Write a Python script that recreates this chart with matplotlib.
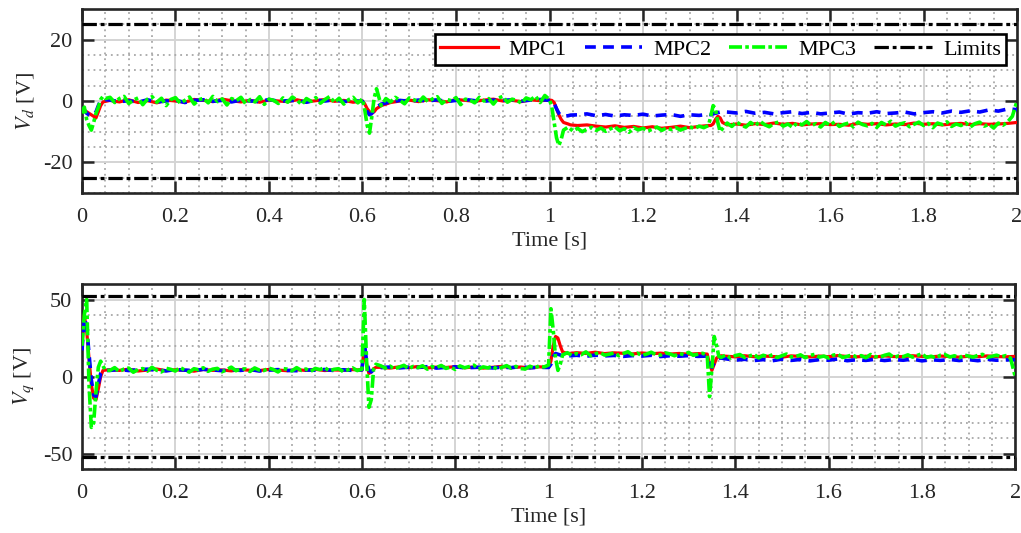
import numpy as np
import matplotlib
matplotlib.use("Agg")
import matplotlib.pyplot as plt
from matplotlib.ticker import MultipleLocator
from matplotlib.lines import Line2D

plt.rcParams['font.family'] = ['Liberation Serif', 'DejaVu Serif']
plt.rcParams['mathtext.fontset'] = 'stix'
plt.rcParams['axes.unicode_minus'] = False

# ---------------- time bases ----------------
t_rb = np.concatenate([
    [0, 0.005, 0.01, 0.015, 0.02, 0.025, 0.03, 0.035, 0.04, 0.045],
    np.arange(0.06, 0.601, 0.02),
    [0.605, 0.61, 0.615, 0.62, 0.625, 0.63],
    np.arange(0.64, 1.001, 0.02),
    [1.005, 1.01, 1.015, 1.02, 1.025, 1.03, 1.04, 1.045],
    np.arange(1.06, 1.341, 0.02),
    [1.345, 1.35, 1.355, 1.36, 1.365, 1.37],
    np.arange(1.38, 2.001, 0.02),
])
t_g = np.concatenate([
    [0, 0.005, 0.01, 0.015, 0.02, 0.025, 0.03, 0.035, 0.04, 0.045, 0.05],
    np.arange(0.06, 0.6001, 0.01),
    [0.605, 0.61, 0.615, 0.62, 0.625, 0.63],
    np.arange(0.64, 1.0001, 0.01),
    [1.005, 1.01, 1.015, 1.02, 1.025, 1.03],
    np.arange(1.04, 1.3401, 0.01),
    [1.345, 1.35, 1.355, 1.36, 1.365],
    np.arange(1.37, 2.0001, 0.01),
])

# ---------------- Vd ----------------
vd_mpc1 = [
    -2.5, -3, -3.5, -4, -4.5, -5, -5.5, -3.5, -1.5, -0.3,
    0.2, -0.3, 0.4, -0.5, 0.1, -0.6, 0.3, 0.0, -0.4, 0.5, 0.2, -0.2, 0.6, 0.1, -0.3,
    0.2, -0.4, 0.3, 0.0, -0.2, 0.4, -0.3, 0.1, 0.5, -0.1, 0.2, -0.4, 0.0,
    -1, -2.5, -3.5, -4, -3.5, -2.5,
    -1.5, -0.5, 0.0, 0.3, -0.2, 0.4, 0.1, -0.3, 0.5, 0.2, -0.1, 0.3, 0.6, 0.0, 0.2,
    -0.2, 0.4, 0.1, 0.3,
    0.2, -0.5, -2.5, -4.5, -6, -7, -7.5, -7.8,
    -8.0, -7.8, -8.2, -8.5, -8.1, -8.6, -8.3, -8.8, -8.4, -8.9, -8.6, -8.2, -8.7, -8.3, -8.0,
    -8, -7.5, -6, -5, -5.5, -7,
    -7.8, -7.5, -7.9, -7.4, -7.7, -7.2, -7.6, -7.3, -7.8, -7.5,
    -7.4, -7.7, -7.6, -7.9, -7.3, -7.6, -7.4, -7.8, -7.5, -7.7,
    -7.2, -7.6, -7.4, -7.8, -7.5, -7.3, -7.7, -7.4, -7.6, -7.5,
    -7.3, -7.0,
]
vd_mpc2 = [
    -2, -3, -4, -4.5, -4.8, -4.5, -3.5, -1.5, 0.2, 0.5,
    0.3, -0.2, 0.1, -0.4, 0.4, -0.3, 0.0, 0.3, -0.5, 0.2, 0.4, -0.1, 0.2, -0.3, 0.3,
    0.0, -0.2, 0.5, -0.1, 0.1, 0.2, -0.4, 0.3, 0.0, 0.4, -0.2, 0.1, -0.1,
    -1.5, -3.5, -4.5, -4, -3, -2,
    -1.0, -0.3, 0.2, -0.1, 0.3, 0.0, 0.4, -0.2, 0.2, 0.5, 0.1, -0.1, 0.3, 0.2, 0.4,
    0.0, 0.3, 0.5, 0.2,
    0.2, -0.8, -2.5, -4, -4.8, -5, -4.8, -4.6,
    -4.5, -4.2, -4.8, -4.4, -4.9, -4.5, -4.7, -4.3, -4.9, -4.6, -4.4, -5.0, -4.5, -4.7, -4.3,
    -4.5, -4.2, -4.0, -3.8, -3.6, -3.5,
    -3.6, -3.9, -3.4, -4.0, -3.7, -4.2, -3.8, -3.5, -4.1, -3.7,
    -4.2, -3.9, -3.6, -4.3, -3.8, -4.0, -3.5, -4.1, -3.9, -3.6,
    -4.2, -3.8, -3.5, -3.9, -3.3, -3.7, -3.2, -3.6, -2.9, -3.3,
    -2.6, -2.8,
]
vd_mpc3 = [
    -4, -2, -6, -8, -9.5, -7, -4, -2, 0.5, 1.5, 0.8,
    1.2, -0.5, 0.8, 1.5, -0.8, 0.3, 1.0, -1.2, 0.6, 1.4,
    -0.4, 0.9, -1.5, 0.5, 1.1, -0.7, 0.2, 1.3, -1.0, 0.4,
    0.9, -0.6, 1.5, -0.2, 0.7, -1.3, 0.8, 0.1, 1.2, -0.9,
    0.5, -0.3, 1.4, -1.1, 0.6, 0.2, -0.8, 1.0, -0.4, 1.3,
    0.3, -1.2, 0.8, -0.1, 1.1, -0.7, 0.5, 1.5, -0.5, 0.9,
    -1.0, 0.4, 1.2, -0.6, 0.7,
    -3, -8, -10.5, -5, 1, 4,
    -1.5, 0.8, -0.3, 1.2, 0.2, -0.9, 1.0, 0.4, -0.5, 1.3,
    -0.2, 0.7, 1.4, -0.8, 0.5, 0.1, 1.1, -1.2, 0.6, 0.3,
    -0.6, 1.2, 0.0, 0.8, -1.0, 0.9, 1.5, -0.4, 0.6, 0.2,
    -0.7, 1.0, 0.4, 1.6, -0.5, 1.8, 0.5,
    -2, -7, -12, -14.5, -12.5, -9.5,
    -8.5, -9.8, -8.9, -10.0, -9.2, -8.6, -9.6, -8.8, -9.9, -9.1,
    -8.4, -9.7, -9.0, -10.2, -8.7, -9.4, -8.9, -9.8, -9.2, -8.5,
    -9.6, -8.8, -9.3, -8.6, -9.5, -8.9, -8.4, -9.0, -8.2, -8.7, -8.0,
    -5, -1.5, -2.5, -7, -10,
    -9.0, -7.2, -8.3, -6.8, -7.9, -8.5, -7.0, -8.1, -6.6, -7.7,
    -8.4, -7.3, -6.9, -8.2, -7.5, -8.6, -7.1, -7.8, -6.7, -8.0,
    -7.4, -8.5, -7.0, -7.9, -6.8, -8.3, -7.6, -7.2, -8.4, -6.9,
    -7.7, -8.1, -7.3, -8.6, -7.0, -7.8, -6.6, -8.2, -7.5, -7.1,
    -8.4, -7.6, -6.9, -8.0, -7.3, -8.7, -7.2, -7.7, -6.8, -8.3,
    -7.5, -8.0, -7.1, -8.5, -7.4, -6.9, -8.2, -7.6, -8.8, -7.2,
    -7.9, -6.8, -5.0, 0.0,
]

# ---------------- Vq ----------------
vq_mpc1 = [
    20, 40, 30, 12, -5, -14, -15, -8, 0, 4,
    4.5, 4.0, 4.8, 3.6, 4.2, 4.9, 3.8, 4.4, 4.1, 3.5, 4.6, 4.0, 4.3, 3.7, 4.5,
    4.1, 3.9, 4.6, 4.2, 3.8, 4.4, 4.0, 4.7, 3.9, 4.3, 4.1, 4.5, 4.2,
    18, 8, 2, 3, 5, 6,
    6.0, 5.5, 6.3, 5.8, 6.5, 5.6, 6.1, 5.9, 6.4, 5.7, 6.2, 5.5, 6.0, 6.6, 5.8,
    6.2, 5.6, 6.3, 6.0,
    10, 20, 26, 25, 20, 16, 15, 15,
    15.5, 15.0, 15.8, 14.9, 15.4, 15.1, 14.7, 15.3, 14.8, 15.2, 14.6, 15.0, 14.5, 14.9, 14.6,
    8, 4, 8, 12, 13, 13.5,
    13.2, 12.8, 13.5, 12.9, 13.3, 13.0, 12.6, 13.4, 13.1, 12.7,
    13.3, 12.9, 13.6, 13.0, 12.8, 13.2, 12.7, 13.4, 13.0, 12.9,
    13.5, 13.1, 12.8, 13.3, 13.0, 12.6, 13.2, 12.9, 13.4, 13.0,
    12.8, 13.1,
]
vq_mpc2 = [
    17, 38, 33, 15, -2, -12, -13, -5, 2, 4,
    4.0, 4.6, 3.9, 4.4, 4.8, 4.1, 3.7, 4.5, 4.2, 3.9, 4.7, 4.3, 3.8, 4.4, 4.0,
    4.6, 3.6, 4.2, 4.5, 4.0, 3.8, 4.3, 4.1, 4.6, 3.9, 4.4, 4.0, 4.3,
    22, 10, 4, 3, 4.5, 5.5,
    5.8, 6.2, 5.6, 6.1, 5.9, 6.4, 5.5, 6.0, 6.3, 5.7, 5.9, 6.2, 5.6, 6.1, 5.8,
    6.4, 5.7, 6.0, 5.9,
    8, 13, 15, 14.5, 14, 13.5, 13.5, 13.5,
    13.8, 13.2, 13.9, 13.4, 13.7, 13.1, 13.6, 13.3, 13.8, 13.0, 13.5, 13.2, 13.6, 13.1, 13.3,
    9, 6, 9, 11, 12, 12,
    11.5, 10.6, 11.2, 10.4, 11.0, 10.3, 11.3, 10.5, 11.1, 10.2,
    11.0, 10.6, 11.4, 10.3, 10.9, 10.5, 11.2, 10.4, 11.0, 10.6,
    11.3, 10.2, 10.9, 10.5, 11.1, 10.4, 11.0, 10.3, 11.2, 10.6,
    10.8, 11.0,
]
vq_mpc3 = [
    20, 40, 50, -5, -33, -30, -10, 6, 10, 7, 4,
    4.0, 5.8, 3.2, 4.9, 5.5, 2.8, 4.6, 5.2, 3.5, 6.0,
    4.1, 3.0, 5.4, 4.7, 3.6, 5.9, 4.3, 2.9, 5.1, 4.4,
    5.7, 3.4, 4.8, 5.3, 3.1, 4.5, 6.1, 3.8, 4.9, 5.0,
    3.3, 5.6, 4.2, 3.9, 5.5, 4.6, 3.0, 5.2, 4.8, 3.7,
    5.8, 4.0, 4.9, 3.4, 5.3, 4.5, 5.9, 3.6, 4.7, 5.1,
    3.2, 4.4, 5.6, 3.9, 4.8,
    50, 10, -20, -15, 5, 8,
    7.0, 5.5, 6.8, 4.9, 6.2, 7.3, 5.1, 6.6, 5.8, 7.0,
    4.8, 6.4, 5.9, 7.2, 5.3, 6.1, 4.6, 6.9, 5.7, 6.5,
    7.4, 5.0, 6.3, 5.6, 6.8, 4.7, 6.0, 7.1, 5.4, 6.6,
    5.2, 4.9, 6.7, 5.5, 7.0, 6.2, 7.5,
    44, 30, 12, 4, 8, 14,
    15.5, 13.8, 15.0, 14.2, 16.0, 13.5, 14.8, 15.6, 13.9, 14.5,
    15.3, 13.6, 14.9, 16.1, 14.0, 15.2, 13.7, 14.6, 15.8, 14.3,
    13.9, 15.4, 14.7, 13.5, 15.0, 14.2, 15.7, 13.8, 14.5, 15.1, 14.0,
    -13, 5, 26, 20, 13,
    12.5, 14.0, 12.0, 13.6, 14.3, 12.4, 13.2, 14.5, 12.1, 13.8,
    12.9, 14.2, 12.3, 13.5, 14.6, 12.7, 13.0, 14.1, 12.2, 13.7,
    14.4, 12.6, 13.3, 12.0, 13.9, 14.5, 12.4, 13.1, 14.0, 12.8,
    13.6, 12.2, 14.3, 13.0, 12.5, 13.8, 14.6, 12.3, 13.4, 12.9,
    14.1, 12.6, 13.7, 14.8, 12.4, 13.2, 12.0, 13.9, 14.2, 12.7,
    13.5, 12.1, 14.0, 13.3, 12.6, 13.8, 14.4, 12.5, 13.1, 13.9,
    12.8, 13.6, 12.0, 0.0,
]

vd_limit = 25
vq_limit = 52

x_ticks = [0, 0.2, 0.4, 0.6, 0.8, 1.0, 1.2, 1.4, 1.6, 1.8, 2.0]
x_ticklabels = ['0', '0.2', '0.4', '0.6', '0.8', '1', '1.2', '1.4', '1.6', '1.8', '2']
vd_ticks = [-20, 0, 20]
vq_ticks = [-50, 0, 50]
labels = ['MPC1', 'MPC2', 'MPC3', 'Limits']

# ---------------- styles ----------------
dark = '#262626'
c1, c2, c3 = '#ff0000', '#0000ff', '#00ff00'
ls1 = '-'
ls2 = (0, (3.0, 2.0))
ls3 = (0, (3.6, 0.9, 1.0, 0.9))
lsl = (0, (4.5, 1.2, 1.2, 1.2))
lw = 2.3
fs = 16

fig = plt.figure(figsize=(10.21, 5.33), dpi=100)
ax1 = fig.add_axes([0.0803, 0.638, 0.9158, 0.345])
ax2 = fig.add_axes([0.0803, 0.120, 0.9140, 0.347])


def style(ax, yt, ylim, yminor, ylabel):
    ax.set_xlim(0, 2)
    ax.set_ylim(-ylim, ylim)
    ax.set_xticks(x_ticks)
    ax.set_xticklabels(x_ticklabels)
    ax.set_yticks(yt)
    ax.set_yticklabels([str(v) for v in yt])
    ax.xaxis.set_minor_locator(MultipleLocator(0.05))
    ax.yaxis.set_minor_locator(MultipleLocator(yminor))
    ax.grid(which='major', color='#d4d4d4', lw=1.4, ls='-', zorder=0)
    ax.grid(which='minor', color='#a8a8a8', lw=1.3, ls=(0, (1, 2.2)), zorder=0)
    ax.set_axisbelow(True)
    ax.tick_params(which='major', direction='in', length=8.5, width=1.8,
                   top=True, right=True, color=dark, labelcolor=dark,
                   labelsize=fs)
    ax.tick_params(axis='x', which='major', pad=11)
    ax.tick_params(axis='y', which='major', pad=7)
    ax.tick_params(which='minor', length=0, top=True, right=True)
    for s in ax.spines.values():
        s.set_linewidth(1.9)
        s.set_color(dark)
    ax.set_xlabel('Time [s]', fontsize=fs, color=dark, labelpad=3)
    ax.set_ylabel(ylabel, fontsize=fs, color=dark, labelpad=5)


# top panel
ax1.plot(t_rb, vd_mpc1, color=c1, ls=ls1, lw=lw, zorder=3)
ax1.plot(t_rb, vd_mpc2, color=c2, ls=ls2, lw=lw + 0.3, zorder=4)
ax1.plot(t_g, vd_mpc3, color=c3, ls=ls3, lw=lw + 0.3, zorder=5)
ax1.axhline(vd_limit, color='black', ls=lsl, lw=lw, zorder=6)
ax1.axhline(-vd_limit, color='black', ls=lsl, lw=lw, zorder=6)
style(ax1, vd_ticks, 30, 5, r'$V_d$ [V]')

# bottom panel
ax2.plot(t_rb, vq_mpc1, color=c1, ls=ls1, lw=lw, zorder=3)
ax2.plot(t_rb, vq_mpc2, color=c2, ls=ls2, lw=lw + 0.3, zorder=4)
ax2.plot(t_g, vq_mpc3, color=c3, ls=ls3, lw=lw + 0.3, zorder=5)
ax2.axhline(vq_limit, color='black', ls=lsl, lw=lw, zorder=6)
ax2.axhline(-vq_limit, color='black', ls=lsl, lw=lw, zorder=6)
style(ax2, vq_ticks, 60, 10, r'$V_q$ [V]')

handles = [
    Line2D([], [], color=c1, ls=ls1, lw=lw),
    Line2D([], [], color=c2, ls=ls2, lw=lw + 0.3),
    Line2D([], [], color=c3, ls=ls3, lw=lw + 0.3),
    Line2D([], [], color='black', ls=lsl, lw=lw),
]
leg = ax1.legend(handles, labels, loc='upper right', bbox_to_anchor=(0.988, 0.862),
                 ncol=4, fontsize=fs, frameon=True, fancybox=False, framealpha=1,
                 edgecolor='black', handlelength=2.6, columnspacing=0.8,
                 handletextpad=0.5, borderpad=0.22, borderaxespad=0)
leg.get_frame().set_linewidth(1.9)
leg.set_zorder(10)

fig.savefig('out.png', dpi=100)
